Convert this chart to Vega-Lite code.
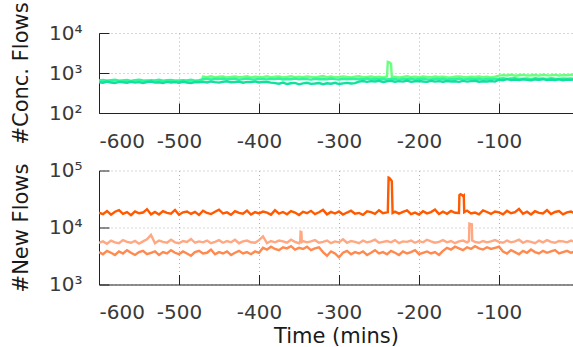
{
"$schema": "https://vega.github.io/schema/vega-lite/v6.json",
"autosize": {"type": "pad"},
"padding": {"left": 10, "top": 1, "right": 0, "bottom": 0},
"spacing": 9.5,
"background": "white",
"resolve": {"scale": {"color": "independent"}},
"config": {
  "view": {"stroke": null},
  "font": "DejaVu Sans",
  "axis": {
    "domainColor": "#222", "domainWidth": 1,
    "tickColor": "#222", "tickSize": -10, "tickWidth": 1,
    "labelColor": "#3a3a3a", "labelFontSize": 20, "labelFont": "DejaVu Sans",
    "titleFont": "DejaVu Sans", "titleFontSize": 21, "titleFontWeight": "normal", "titleColor": "#1a1a1a",
    "gridColor": "#b0b0b0", "gridDash": [1, 3], "gridWidth": 1
  }
},
"data": {"values": [
{"t":-600,"a":630,"b":650,"c":590,"d":18200,"e":5400,"f":3700},
{"t":-595,"a":610,"b":670,"c":570,"d":17100,"e":5700,"f":3400},
{"t":-590,"a":645,"b":640,"c":610,"d":19500,"e":5200,"f":3900},
{"t":-585,"a":620,"b":660,"c":580,"d":16800,"e":5900,"f":3600},
{"t":-580,"a":600,"b":680,"c":560,"d":18900,"e":5500,"f":3300},
{"t":-575,"a":635,"b":645,"c":600,"d":20100,"e":5300,"f":3800},
{"t":-570,"a":650,"b":655,"c":585,"d":17400,"e":6000,"f":3500},
{"t":-565,"a":615,"b":670,"c":570,"d":18600,"e":5600,"f":4000},
{"t":-560,"a":625,"b":635,"c":605,"d":16500,"e":5400,"f":3600},
{"t":-555,"a":640,"b":660,"c":575,"d":19200,"e":5800,"f":3300},
{"t":-550,"a":605,"b":675,"c":590,"d":17800,"e":5200,"f":3700},
{"t":-545,"a":630,"b":650,"c":560,"d":18300,"e":5700,"f":3900},
{"t":-540,"a":655,"b":640,"c":595,"d":21000,"e":6200,"f":3400},
{"t":-535,"a":620,"b":665,"c":610,"d":17000,"e":7400,"f":3600},
{"t":-530,"a":610,"b":655,"c":575,"d":18700,"e":5300,"f":3800},
{"t":-525,"a":640,"b":680,"c":585,"d":16900,"e":5900,"f":3300},
{"t":-520,"a":625,"b":645,"c":565,"d":19400,"e":5600,"f":3700},
{"t":-515,"a":600,"b":660,"c":600,"d":18100,"e":5400,"f":3500},
{"t":-510,"a":635,"b":670,"c":580,"d":17500,"e":6100,"f":4000},
{"t":-505,"a":645,"b":640,"c":590,"d":20300,"e":5500,"f":3600},
{"t":-500,"a":615,"b":655,"c":570,"d":16800,"e":5300,"f":3400},
{"t":-495,"a":630,"b":665,"c":605,"d":18500,"e":5800,"f":3800},
{"t":-490,"a":620,"b":650,"c":580,"d":19100,"e":5600,"f":3500},
{"t":-485,"a":650,"b":675,"c":560,"d":17300,"e":6300,"f":3200},
{"t":-480,"a":610,"b":645,"c":595,"d":18800,"e":5400,"f":3700},
{"t":-475,"a":625,"b":660,"c":585,"d":16600,"e":5700,"f":3900},
{"t":-471,"a":630},
{"t":-470,"a":810,"b":700,"c":600,"d":19700,"e":5500,"f":3500},
{"t":-465,"a":790,"b":720,"c":580,"d":18000,"e":5900,"f":3600},
{"t":-460,"a":830,"b":690,"c":615,"d":17200,"e":5300,"f":4100},
{"t":-455,"a":780,"b":715,"c":590,"d":18900,"e":5600,"f":3400},
{"t":-450,"a":805,"b":705,"c":575,"d":20500,"e":6000,"f":3700},
{"t":-445,"a":820,"b":730,"c":605,"d":17600,"e":5400,"f":3500},
{"t":-440,"a":770,"b":695,"c":620,"d":18400,"e":5800,"f":3800},
{"t":-435,"a":800,"b":710,"c":585,"d":16700,"e":5500,"f":3300},
{"t":-430,"a":815,"b":720,"c":595,"d":19300,"e":6100,"f":3600},
{"t":-425,"a":785,"b":685,"c":610,"d":18100,"e":5300,"f":3900},
{"t":-420,"a":795,"b":705,"c":570,"d":17400,"e":5700,"f":3500},
{"t":-415,"a":830,"b":725,"c":600,"d":19800,"e":5900,"f":3700},
{"t":-410,"a":775,"b":700,"c":590,"d":16900,"e":5500,"f":3400},
{"t":-405,"a":810,"b":690,"c":615,"d":18600,"e":5400,"f":3800},
{"t":-400,"a":800,"b":715,"c":580,"d":17700,"e":6000,"f":3600},
{"t":-395,"a":790,"b":710,"c":600,"d":19000,"e":7000,"f":4400},
{"t":-390,"a":825,"b":695,"c":595,"d":18200,"e":5300,"f":4100},
{"t":-385,"a":780,"b":720,"c":575,"d":16800,"e":5800,"f":4600},
{"t":-380,"a":805,"b":705,"c":560,"d":20200,"e":5500,"f":4200},
{"t":-375,"a":815,"b":730,"c":540,"d":17500,"e":5900,"f":4000},
{"t":-370,"a":770,"b":690,"c":575,"d":18700,"e":5700,"f":4500},
{"t":-365,"a":800,"b":710,"c":530,"d":17100,"e":5400,"f":4300},
{"t":-360,"a":835,"b":700,"c":555,"d":19400,"e":6100,"f":4700},
{"t":-355,"a":790,"b":725,"c":565,"d":18300,"e":5600,"f":4100},
{"t":-350,"a":810,"b":695,"c":520,"d":16600,"e":5300,"f":4400},
{"t":-348.5,"e":5700},
{"t":-348,"e":8400},
{"t":-347,"e":8300},
{"t":-346.5,"e":5600},
{"t":-345,"a":785,"b":715,"c":550,"d":18900,"e":5800,"f":4200},
{"t":-340,"a":820,"b":705,"c":570,"d":17800,"e":5500,"f":4600},
{"t":-335,"a":800,"b":685,"c":535,"d":19600,"e":5700,"f":4000},
{"t":-330,"a":775,"b":720,"c":545,"d":17200,"e":6000,"f":4300},
{"t":-325,"a":805,"b":700,"c":560,"d":18500,"e":5400,"f":4500},
{"t":-320,"a":840,"b":710,"c":525,"d":20400,"e":5600,"f":3700},
{"t":-315,"a":790,"b":695,"c":555,"d":17000,"e":5900,"f":3200},
{"t":-310,"a":815,"b":725,"c":540,"d":18800,"e":5300,"f":3800},
{"t":-305,"a":780,"b":705,"c":570,"d":17600,"e":5700,"f":3500},
{"t":-300,"a":800,"b":690,"c":530,"d":19100,"e":5500,"f":3000},
{"t":-295,"a":825,"b":715,"c":550,"d":16900,"e":6200,"f":3600},
{"t":-290,"a":795,"b":700,"c":565,"d":18300,"e":5400,"f":3900},
{"t":-285,"a":770,"b":720,"c":545,"d":19700,"e":5800,"f":3400},
{"t":-280,"a":810,"b":710,"c":560,"d":17400,"e":5600,"f":3700},
{"t":-275,"a":830,"b":695,"c":610,"d":18000,"e":5300,"f":3500},
{"t":-270,"a":785,"b":705,"c":630,"d":16700,"e":5900,"f":3800},
{"t":-265,"a":800,"b":730,"c":600,"d":19200,"e":5500,"f":3300},
{"t":-260,"a":815,"b":690,"c":625,"d":18600,"e":5700,"f":3600},
{"t":-255,"a":790,"b":715,"c":615,"d":17300,"e":6100,"f":4000},
{"t":-250,"a":805,"b":700,"c":640,"d":20100,"e":5400,"f":3500},
{"t":-245,"a":780,"b":720,"c":595,"d":17800,"e":5600,"f":3700},
{"t":-240,"a":820,"b":695,"c":620,"d":18400,"e":5800,"f":3400},
{"t":-239,"a":1900,"d":18500},
{"t":-238,"d":75000},
{"t":-237,"a":1850,"d":74000},
{"t":-236,"d":71000},
{"t":-235,"a":1700,"b":710,"c":635,"d":68000,"e":5500,"f":3900},
{"t":-234,"a":790,"d":65000},
{"t":-233,"d":18000},
{"t":-230,"a":810,"b":705,"c":605,"d":19000,"e":6000,"f":3600},
{"t":-225,"a":775,"b":685,"c":625,"d":17500,"e":5300,"f":3300},
{"t":-220,"a":800,"b":720,"c":610,"d":18800,"e":5700,"f":3800},
{"t":-215,"a":830,"b":700,"c":645,"d":19900,"e":5600,"f":3500},
{"t":-210,"a":790,"b":715,"c":600,"d":17100,"e":5900,"f":3700},
{"t":-205,"a":805,"b":695,"c":620,"d":18200,"e":5400,"f":4000},
{"t":-200,"a":785,"b":710,"c":630,"d":16800,"e":5800,"f":3400},
{"t":-195,"a":815,"b":725,"c":615,"d":19300,"e":5500,"f":3600},
{"t":-190,"a":800,"b":700,"c":600,"d":17700,"e":6100,"f":3800},
{"t":-185,"a":780,"b":690,"c":640,"d":18600,"e":5700,"f":3500},
{"t":-180,"a":820,"b":715,"c":610,"d":20600,"e":5400,"f":3700},
{"t":-175,"a":795,"b":705,"c":625,"d":17200,"e":5600,"f":3300},
{"t":-170,"a":810,"b":720,"c":605,"d":18900,"e":6000,"f":3900},
{"t":-165,"a":790,"b":695,"c":630,"d":17400,"e":5500,"f":4400},
{"t":-160,"a":775,"b":710,"c":615,"d":19500,"e":5800,"f":4100},
{"t":-155,"a":805,"b":700,"c":620,"d":18100,"e":5300,"f":4600},
{"t":-150,"a":825,"b":725,"c":600,"d":18000,"e":5700,"f":4300},
{"t":-149.5,"d":37000},
{"t":-148,"d":38500},
{"t":-146,"d":37000},
{"t":-145,"a":800,"b":690,"c":635,"d":35500,"e":5900,"f":4000},
{"t":-144,"d":36500},
{"t":-143.5,"d":18500},
{"t":-140,"a":785,"b":705,"c":610,"d":19800,"e":5500,"f":4500},
{"t":-137.5,"e":5800},
{"t":-137,"e":11700},
{"t":-135,"a":810,"b":715,"c":625,"d":17600,"e":11500,"f":4200},
{"t":-134,"e":11400},
{"t":-133.5,"e":5900},
{"t":-130,"a":795,"b":700,"c":640,"d":18300,"e":5600,"f":4700},
{"t":-125,"a":820,"b":720,"c":605,"d":17000,"e":5400,"f":4300},
{"t":-120,"a":790,"b":695,"c":620,"d":20000,"e":5800,"f":4100},
{"t":-115,"a":805,"b":710,"c":615,"d":18700,"e":5500,"f":4500},
{"t":-110,"a":780,"b":705,"c":630,"d":17300,"e":5700,"f":4200},
{"t":-105,"a":815,"b":715,"c":610,"d":19100,"e":6000,"f":4400},
{"t":-100,"a":860,"b":720,"c":680,"d":18400,"e":5600,"f":4600},
{"t":-95,"a":885,"b":740,"c":660,"d":17000,"e":5400,"f":3800},
{"t":-90,"a":870,"b":710,"c":700,"d":19600,"e":5900,"f":3500},
{"t":-85,"a":900,"b":730,"c":670,"d":17800,"e":5500,"f":4000},
{"t":-80,"a":855,"b":745,"c":690,"d":18500,"e":5700,"f":3700},
{"t":-75,"a":880,"b":715,"c":665,"d":21200,"e":6100,"f":3400},
{"t":-70,"a":895,"b":725,"c":695,"d":17400,"e":5400,"f":3900},
{"t":-65,"a":865,"b":735,"c":675,"d":18900,"e":5800,"f":3600},
{"t":-60,"a":875,"b":705,"c":655,"d":16900,"e":5600,"f":4100},
{"t":-55,"a":890,"b":740,"c":690,"d":19300,"e":5300,"f":3700},
{"t":-50,"a":860,"b":720,"c":680,"d":18100,"e":5900,"f":3500},
{"t":-45,"a":905,"b":730,"c":700,"d":17600,"e":5500,"f":3900},
{"t":-40,"a":870,"b":715,"c":665,"d":20200,"e":6000,"f":3600},
{"t":-35,"a":880,"b":745,"c":685,"d":17200,"e":5600,"f":3800},
{"t":-30,"a":895,"b":725,"c":670,"d":18700,"e":5400,"f":4000},
{"t":-25,"a":865,"b":710,"c":695,"d":19400,"e":5800,"f":3500},
{"t":-20,"a":885,"b":735,"c":660,"d":17000,"e":5700,"f":3700},
{"t":-15,"a":875,"b":720,"c":685,"d":18400,"e":5500,"f":3900},
{"t":-10,"a":900,"b":730,"c":675,"d":19000,"e":5900,"f":3600},
{"t":-5,"a":870,"b":715,"c":690,"d":17700,"e":5600,"f":3800}
]},
"vconcat": [
  {
    "width": 474, "height": 80,
    "transform": [{"fold": ["a", "b", "c"], "as": ["s", "v"]}, {"filter": "isValid(datum.v) && datum.v > 0"}],
    "mark": {"type": "line", "strokeWidth": 2.4, "clip": true},
    "encoding": {
      "x": {"field": "t", "type": "quantitative",
        "scale": {"domain": [-600, -7.5], "nice": false, "zero": false},
        "axis": {"title": null, "values": [-600, -500, -400, -300, -200, -100], "labelExpr": "'' + datum.value", "labelPadding": 28, "grid": true}},
      "y": {"field": "v", "type": "quantitative",
        "scale": {"type": "log", "domain": [100, 10000], "nice": false},
        "axis": {"title": "#Conc. Flows", "values": [100, 1000, 10000], "labelExpr": "datum.value == 100 ? '10²' : datum.value == 1000 ? '10³' : '10⁴'", "labelPadding": 27, "titlePadding": 17, "grid": true}},
      "color": {"field": "s", "type": "nominal", "legend": null,
        "scale": {"domain": ["a", "b", "c"], "range": ["#6bff80", "#2ef59a", "#10dfa0"]}}
    }
  },
  {
    "width": 474, "height": 114,
    "transform": [{"fold": ["d", "e", "f"], "as": ["s", "v"]}, {"filter": "isValid(datum.v) && datum.v > 0"}],
    "mark": {"type": "line", "strokeWidth": 2.4, "clip": true},
    "encoding": {
      "x": {"field": "t", "type": "quantitative",
        "scale": {"domain": [-600, -7.5], "nice": false, "zero": false},
        "axis": {"title": "Time (mins)", "values": [-600, -500, -400, -300, -200, -100], "labelExpr": "'' + datum.value", "labelPadding": 28, "titlePadding": 3, "grid": true}},
      "y": {"field": "v", "type": "quantitative",
        "scale": {"type": "log", "domain": [1000, 100000], "nice": false},
        "axis": {"title": "#New Flows", "values": [1000, 10000, 100000], "labelExpr": "datum.value == 1000 ? '10³' : datum.value == 10000 ? '10⁴' : '10⁵'", "labelPadding": 27, "titlePadding": 17, "grid": true}},
      "color": {"field": "s", "type": "nominal", "legend": null,
        "scale": {"domain": ["d", "e", "f"], "range": ["#ff5a00", "#ffa882", "#ff8a50"]}}
    }
  }
]
}
